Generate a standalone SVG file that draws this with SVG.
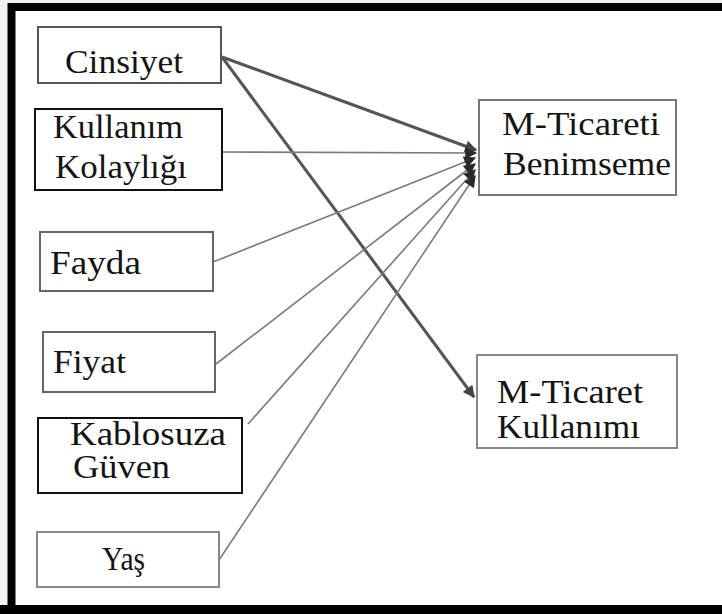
<svg xmlns="http://www.w3.org/2000/svg" width="722" height="614" viewBox="0 0 722 614">
  <defs>
    <marker id="head" viewBox="0 0 10 10" refX="9" refY="5" markerWidth="17" markerHeight="12" markerUnits="userSpaceOnUse" orient="auto">
      <path d="M0,0 L10,5 L0,10 Z" fill="#2a2a2a"/>
    </marker>
    <marker id="headBig" viewBox="0 0 10 10" refX="9" refY="5" markerWidth="16" markerHeight="12" markerUnits="userSpaceOnUse" orient="auto">
      <path d="M0,0 L10,5 L0,10 Z" fill="#444"/>
    </marker>
    <style>
      .box { fill: #ffffff; stroke-width: 2; }
      .lbl { font-family: "Liberation Serif", "DejaVu Serif", "Times New Roman", Times, serif; font-size: 33px; fill: #141414; }
      .thin { stroke: #7a7a7a; stroke-width: 1.6; fill: none; marker-end: url(#head); }
      .thick { stroke: #555; stroke-width: 3; fill: none; marker-end: url(#headBig); }
    </style>
  </defs>

  <!-- page and black frame -->
  <rect x="0" y="0" width="722" height="614" fill="#f2f2f2"/>
  <rect x="15" y="11" width="707" height="594" fill="#ffffff"/>
  <path d="M11.5,614 V7 H722" fill="none" stroke="#000" stroke-width="8"/>
  <rect x="0" y="605" width="722" height="9" fill="#000"/>

  <!-- connectors -->
  <g id="connectors">
    <line class="thick" x1="222" y1="57" x2="476" y2="150"/>
    <line class="thick" x1="222" y1="57" x2="474" y2="397"/>
    <line class="thin" x1="222" y1="152" x2="476" y2="153"/>
    <line class="thin" x1="213" y1="262" x2="475" y2="158"/>
    <line class="thin" x1="216" y1="364" x2="475" y2="164"/>
    <line class="thin" x1="248" y1="424" x2="475" y2="170"/>
    <line class="thin" x1="219" y1="560" x2="475" y2="176"/>
  </g>

  <!-- input nodes -->
  <g id="cinsiyet">
    <rect class="box" x="38" y="27" width="183" height="56" stroke="#555" stroke-width="3"/>
    <text class="lbl" x="65" y="73" textLength="118" lengthAdjust="spacingAndGlyphs">Cinsiyet</text>
  </g>
  <g id="kullanim-kolayligi">
    <rect class="box" x="35" y="109" width="187" height="81" stroke="#111"/>
    <text class="lbl" x="53" y="138" textLength="130" lengthAdjust="spacingAndGlyphs">Kullanım</text>
    <text class="lbl" x="55" y="178" textLength="132" lengthAdjust="spacingAndGlyphs">Kolaylığı</text>
  </g>
  <g id="fayda">
    <rect class="box" x="40" y="232" width="173" height="59" stroke="#666"/>
    <text class="lbl" x="50" y="274" textLength="91" lengthAdjust="spacingAndGlyphs">Fayda</text>
  </g>
  <g id="fiyat">
    <rect class="box" x="43" y="332" width="172" height="60" stroke="#666"/>
    <text class="lbl" x="53" y="373" textLength="73" lengthAdjust="spacingAndGlyphs">Fiyat</text>
  </g>
  <g id="kablosuza-guven">
    <rect class="box" x="38" y="418" width="204" height="75" stroke="#111"/>
    <text class="lbl" x="70" y="445" textLength="156" lengthAdjust="spacingAndGlyphs">Kablosuza</text>
    <text class="lbl" x="73" y="478" textLength="97" lengthAdjust="spacingAndGlyphs">Güven</text>
  </g>
  <g id="yas">
    <rect class="box" x="37" y="532" width="182" height="55" stroke="#888"/>
    <text class="lbl" x="102" y="570" textLength="43" lengthAdjust="spacingAndGlyphs">Yaş</text>
  </g>

  <!-- outcome nodes -->
  <g id="m-ticareti-benimseme">
    <rect class="box" x="479" y="100" width="197" height="95" stroke="#777"/>
    <text class="lbl" x="502" y="135" textLength="158" lengthAdjust="spacingAndGlyphs">M-Ticareti</text>
    <text class="lbl" x="503" y="175" textLength="168" lengthAdjust="spacingAndGlyphs">Benimseme</text>
  </g>
  <g id="m-ticaret-kullanimi">
    <rect class="box" x="477" y="355" width="200" height="93" stroke="#888"/>
    <text class="lbl" x="497" y="403" textLength="146" lengthAdjust="spacingAndGlyphs">M-Ticaret</text>
    <text class="lbl" x="497" y="438" textLength="143" lengthAdjust="spacingAndGlyphs">Kullanımı</text>
  </g>
</svg>
